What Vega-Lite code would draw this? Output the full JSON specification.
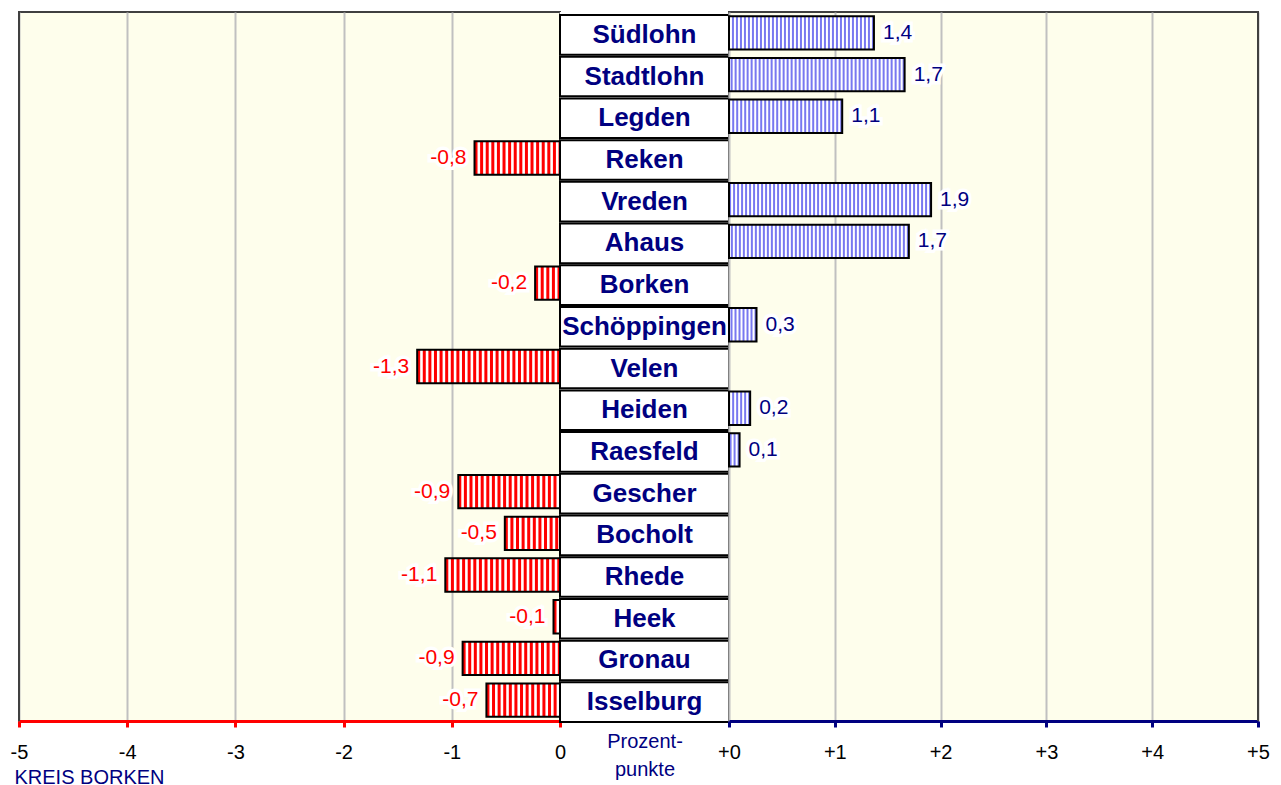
{
  "$schema": "https://vega.github.io/schema/vega-lite/v6.json",
  "padding": {"left": 9, "top": 10, "right": 15, "bottom": 5},
  "background": "white",
  "spacing": 0,
  "bounds": "flush",
  "datasets": {
    "d": [
      {"name": "Südlohn", "v": 1.37},
      {"name": "Stadtlohn", "v": 1.66},
      {"name": "Legden", "v": 1.07},
      {"name": "Reken", "v": -0.79},
      {"name": "Vreden", "v": 1.91},
      {"name": "Ahaus", "v": 1.7},
      {"name": "Borken", "v": -0.23},
      {"name": "Schöppingen", "v": 0.26},
      {"name": "Velen", "v": -1.32},
      {"name": "Heiden", "v": 0.2},
      {"name": "Raesfeld", "v": 0.1},
      {"name": "Gescher", "v": -0.94},
      {"name": "Bocholt", "v": -0.51},
      {"name": "Rhede", "v": -1.06},
      {"name": "Heek", "v": -0.06},
      {"name": "Gronau", "v": -0.9},
      {"name": "Isselburg", "v": -0.68}
    ],
    "edge": [{"e": 1}]
  },
  "hconcat": [
    {
      "width": 541,
      "height": 709,
      "view": {"fill": "#fefeec", "stroke": "#404040", "strokeWidth": 2},
      "layer": [
        {
          "data": {"name": "d"},
          "transform": [{"filter": "datum.v < 0"}],
          "mark": {"type": "bar", "fill": "white"},
          "encoding": {
            "y": {
              "field": "name", "type": "nominal", "sort": null,
              "scale": {"domain": ["Südlohn","Stadtlohn","Legden","Reken","Vreden","Ahaus","Borken","Schöppingen","Velen","Heiden","Raesfeld","Gescher","Bocholt","Rhede","Heek","Gronau","Isselburg"], "paddingInner": 0.2, "paddingOuter": 0.1},
              "axis": null
            },
            "x": {
              "field": "v", "type": "quantitative",
              "scale": {"domain": [-5, 0], "nice": false, "zero": false},
              "axis": {
                "values": [-5, -4, -3, -2, -1, 0], "format": "d",
                "grid": true, "gridColor": "#c0c0c0", "gridWidth": 2,
                "domainColor": "#ff0000", "domainWidth": 3,
                "tickColor": "#ff0000", "tickWidth": 3, "tickSize": 6,
                "labelPadding": 15, "labelFlush": false, "labelOverlap": false, "labelBound": false,
                "labelFontSize": 20, "labelColor": "black", "labelBaseline": "top",
                "title": "KREIS BORKEN", "titleColor": "#000080", "titleFontWeight": "normal", "titleFontSize": 20,
                "titleAnchor": "start", "titleAlign": "left", "titleX": -5, "titleY": 62, "titleBaseline": "alphabetic"
              }
            },
            "x2": {"datum": 0}
          }
        },
        {
          "data": {"name": "edge"},
          "mark": {"type": "rule", "color": "#404040", "strokeWidth": 2},
          "encoding": {"x": {"datum": -5, "type": "quantitative"}}
        },
        {
          "data": {"name": "d"},
          "transform": [{"filter": "datum.v < 0"}],
          "mark": {"type": "rule", "color": "#ff0000", "strokeWidth": 33, "strokeDash": [3, 2.6]},
          "encoding": {
            "y": {"field": "name", "type": "nominal", "sort": null},
            "x": {"field": "v", "type": "quantitative"},
            "x2": {"datum": 0}
          }
        },
        {
          "data": {"name": "d"},
          "transform": [{"filter": "datum.v < 0"}],
          "mark": {"type": "bar", "fillOpacity": 0, "stroke": "black", "strokeWidth": 2},
          "encoding": {
            "y": {"field": "name", "type": "nominal", "sort": null},
            "x": {"field": "v", "type": "quantitative"},
            "x2": {"datum": 0}
          }
        },
        {
          "data": {"name": "d"},
          "transform": [{"filter": "datum.v < 0"}],
          "mark": {"type": "text", "align": "right", "baseline": "middle", "dx": -8, "color": "white", "stroke": "white", "strokeWidth": 7, "fontSize": 21},
          "encoding": {
            "y": {"field": "name", "type": "nominal", "sort": null},
            "x": {"field": "v", "type": "quantitative"},
            "text": {"field": "v", "type": "quantitative", "format": ".1f"}
          }
        },
        {
          "data": {"name": "d"},
          "transform": [{"filter": "datum.v < 0"}],
          "mark": {"type": "text", "align": "right", "baseline": "middle", "dx": -8, "color": "#ff0000", "fontSize": 21},
          "encoding": {
            "y": {"field": "name", "type": "nominal", "sort": null},
            "x": {"field": "v", "type": "quantitative"},
            "text": {"field": "v", "type": "quantitative", "format": ".1f"}
          }
        }
      ]
    },
    {
      "width": 169,
      "height": 709,
      "data": {"name": "d"},
      "view": {"fill": "white", "stroke": null},
      "encoding": {
        "y": {
          "field": "name", "type": "nominal", "sort": null,
          "scale": {"domain": ["Südlohn","Stadtlohn","Legden","Reken","Vreden","Ahaus","Borken","Schöppingen","Velen","Heiden","Raesfeld","Gescher","Bocholt","Rhede","Heek","Gronau","Isselburg"], "paddingInner": 0.05, "paddingOuter": 0.025},
          "axis": null
        }
      },
      "layer": [
        {
          "mark": {"type": "bar", "fill": "white", "stroke": "black", "strokeWidth": 2, "yOffset": 2},
          "encoding": {
            "x": {
              "datum": 0, "type": "quantitative",
              "scale": {"domain": [0, 1], "nice": false},
              "axis": {
                "ticks": false, "labels": false, "grid": false,
                "domainColor": "#ff0000", "domainWidth": 2,
                "title": ["Prozent-", "punkte"], "titleColor": "#000080", "titleFontWeight": "normal", "titleFontSize": 20,
                "titleLineHeight": 28, "titleBaseline": "alphabetic", "titleY": 26
              }
            },
            "x2": {"datum": 1}
          }
        },
        {
          "mark": {"type": "text", "fontWeight": "bold", "fontSize": 26, "color": "#000080", "baseline": "middle", "yOffset": 2},
          "encoding": {
            "x": {"datum": 0.5, "type": "quantitative"},
            "text": {"field": "name", "type": "nominal"}
          }
        }
      ]
    },
    {
      "width": 529,
      "height": 709,
      "view": {"fill": "#fefeec", "stroke": "#404040", "strokeWidth": 2},
      "layer": [
        {
          "data": {"name": "d"},
          "transform": [{"filter": "datum.v > 0"}],
          "mark": {"type": "bar", "fill": "white"},
          "encoding": {
            "y": {
              "field": "name", "type": "nominal", "sort": null,
              "scale": {"domain": ["Südlohn","Stadtlohn","Legden","Reken","Vreden","Ahaus","Borken","Schöppingen","Velen","Heiden","Raesfeld","Gescher","Bocholt","Rhede","Heek","Gronau","Isselburg"], "paddingInner": 0.2, "paddingOuter": 0.1},
              "axis": null
            },
            "x": {
              "field": "v", "type": "quantitative",
              "scale": {"domain": [0, 5], "nice": false},
              "axis": {
                "values": [0, 1, 2, 3, 4, 5], "format": "+d",
                "grid": true, "gridColor": "#c0c0c0", "gridWidth": 2,
                "domainColor": "#000080", "domainWidth": 3,
                "tickColor": "#000080", "tickWidth": 3, "tickSize": 6,
                "labelPadding": 15, "labelFlush": false, "labelOverlap": false, "labelBound": false,
                "labelFontSize": 20, "labelColor": "black", "labelBaseline": "top",
                "title": null
              }
            },
            "x2": {"datum": 0}
          }
        },
        {
          "data": {"name": "edge"},
          "mark": {"type": "rule", "color": "#404040", "strokeWidth": 2},
          "encoding": {"x": {"datum": 5, "type": "quantitative"}}
        },
        {
          "data": {"name": "d"},
          "transform": [{"filter": "datum.v > 0"}],
          "mark": {"type": "rule", "color": "#7878f0", "strokeWidth": 33, "strokeDash": [2, 2]},
          "encoding": {
            "y": {"field": "name", "type": "nominal", "sort": null},
            "x": {"field": "v", "type": "quantitative"},
            "x2": {"datum": 0}
          }
        },
        {
          "data": {"name": "d"},
          "transform": [{"filter": "datum.v > 0"}],
          "mark": {"type": "bar", "fillOpacity": 0, "stroke": "black", "strokeWidth": 2},
          "encoding": {
            "y": {"field": "name", "type": "nominal", "sort": null},
            "x": {"field": "v", "type": "quantitative"},
            "x2": {"datum": 0}
          }
        },
        {
          "data": {"name": "d"},
          "transform": [{"filter": "datum.v > 0"}],
          "mark": {"type": "text", "align": "left", "baseline": "middle", "dx": 9, "color": "white", "stroke": "white", "strokeWidth": 7, "fontSize": 21},
          "encoding": {
            "y": {"field": "name", "type": "nominal", "sort": null},
            "x": {"field": "v", "type": "quantitative"},
            "text": {"field": "v", "type": "quantitative", "format": ".1f"}
          }
        },
        {
          "data": {"name": "d"},
          "transform": [{"filter": "datum.v > 0"}],
          "mark": {"type": "text", "align": "left", "baseline": "middle", "dx": 9, "color": "#000080", "fontSize": 21},
          "encoding": {
            "y": {"field": "name", "type": "nominal", "sort": null},
            "x": {"field": "v", "type": "quantitative"},
            "text": {"field": "v", "type": "quantitative", "format": ".1f"}
          }
        }
      ]
    }
  ],
  "config": {
    "font": "Liberation Sans",
    "locale": {"number": {"decimal": ",", "thousands": ".", "grouping": [3], "currency": ["", " €"], "minus": "-"}},
    "axis": {"labelFont": "Liberation Sans", "titleFont": "Liberation Sans"}
  }
}
